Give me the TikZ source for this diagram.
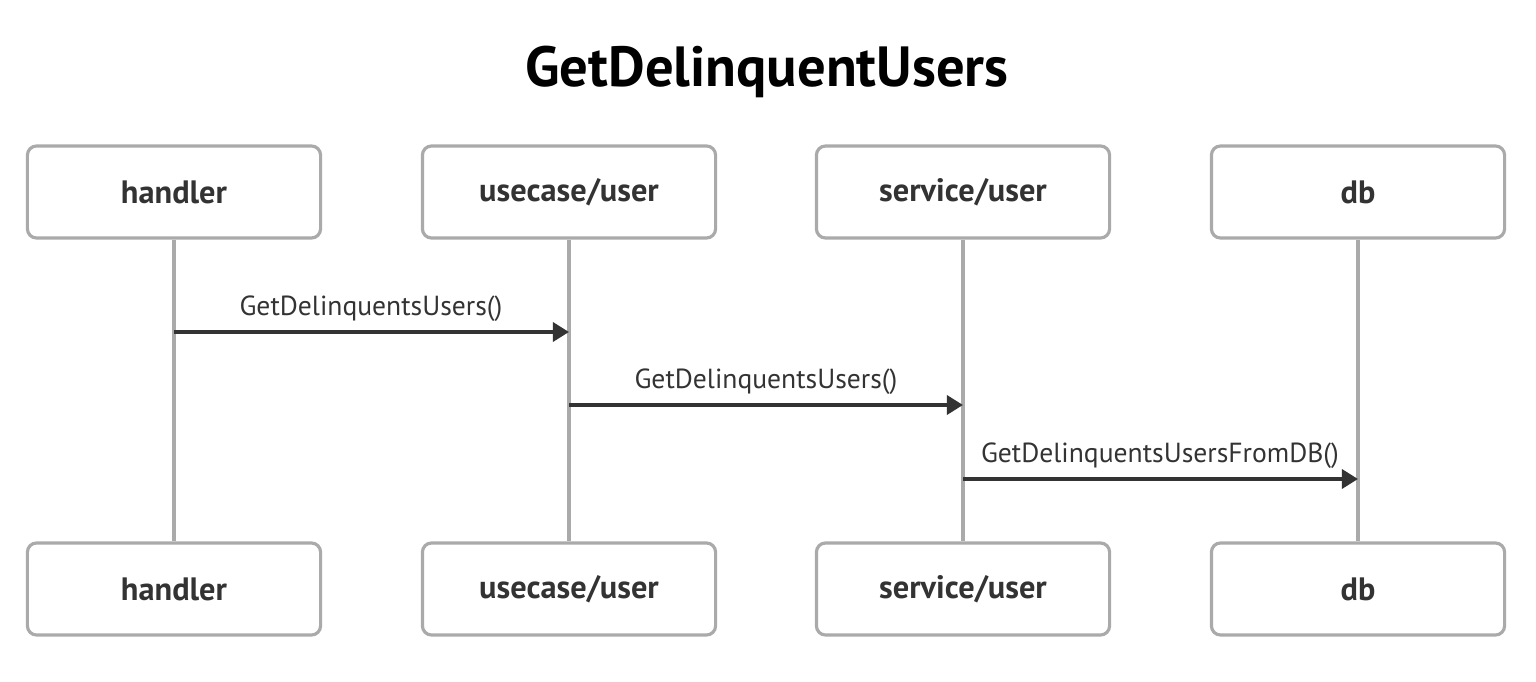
\documentclass[tikz,border=0pt]{standalone}
\usepackage{fontspec}
\setmainfont{PT Sans}
\usetikzlibrary{arrows.meta}
\definecolor{boxgray}{HTML}{AAAAAA}
\definecolor{txt}{HTML}{333333}
\tikzset{
  px/.style={x=0.01cm,y=-0.01cm},
  actor/.style={draw=boxgray, line width=0.9pt, fill=white, rounded corners=2.6pt,
    minimum width=2.93cm, minimum height=0.92cm, inner sep=0pt,
    font=\fontsize{9.2pt}{11pt}\selectfont\bfseries, text=txt},
  life/.style={draw=boxgray, line width=0.95pt},
  msg/.style={draw=txt, line width=1.1pt, -{Triangle[length=4.6pt,width=5.4pt]}},
  msglabel/.style={font=\fontsize{7.85pt}{9pt}\selectfont, text=txt, inner sep=0pt, anchor=base},
}
\begin{document}
\begin{tikzpicture}[px]
\useasboundingbox (0,0) rectangle (1536,682);
\node[font=\fontsize{16.1pt}{18pt}\selectfont\bfseries, text=black, anchor=base, inner sep=0pt] (title) at (767,87) {GetDelinquentUsers};
\node[actor] (ht) at (174,192) {handler};
\node[actor] (ut) at (569,192) {usecase/user};
\node[actor] (st) at (963,192) {service/user};
\node[actor] (dt) at (1358,192) {db};
\node[actor] (hb) at (174,589) {handler};
\node[actor] (ub) at (569,589) {usecase/user};
\node[actor] (sb) at (963,589) {service/user};
\node[actor] (db) at (1358,589) {db};
\draw[life] (ht.south) -- (hb.north);
\draw[life] (ut.south) -- (ub.north);
\draw[life] (st.south) -- (sb.north);
\draw[life] (dt.south) -- (db.north);
\coordinate (h1) at (174,332); \coordinate (u1) at (569,332);
\coordinate (u2) at (569,405); \coordinate (s2) at (963,405);
\coordinate (s3) at (963,479); \coordinate (d3) at (1358,479);
\draw[msg] (h1) -- (u1);
\draw[msg] (u2) -- (s2);
\draw[msg] (s3) -- (d3);
\node[msglabel] (l1) at (371,315) {GetDelinquentsUsers()};
\node[msglabel] (l2) at (766,389) {GetDelinquentsUsers()};
\node[msglabel] (l3) at (1160,462) {GetDelinquentsUsersFromDB()};
\end{tikzpicture}
\end{document}
